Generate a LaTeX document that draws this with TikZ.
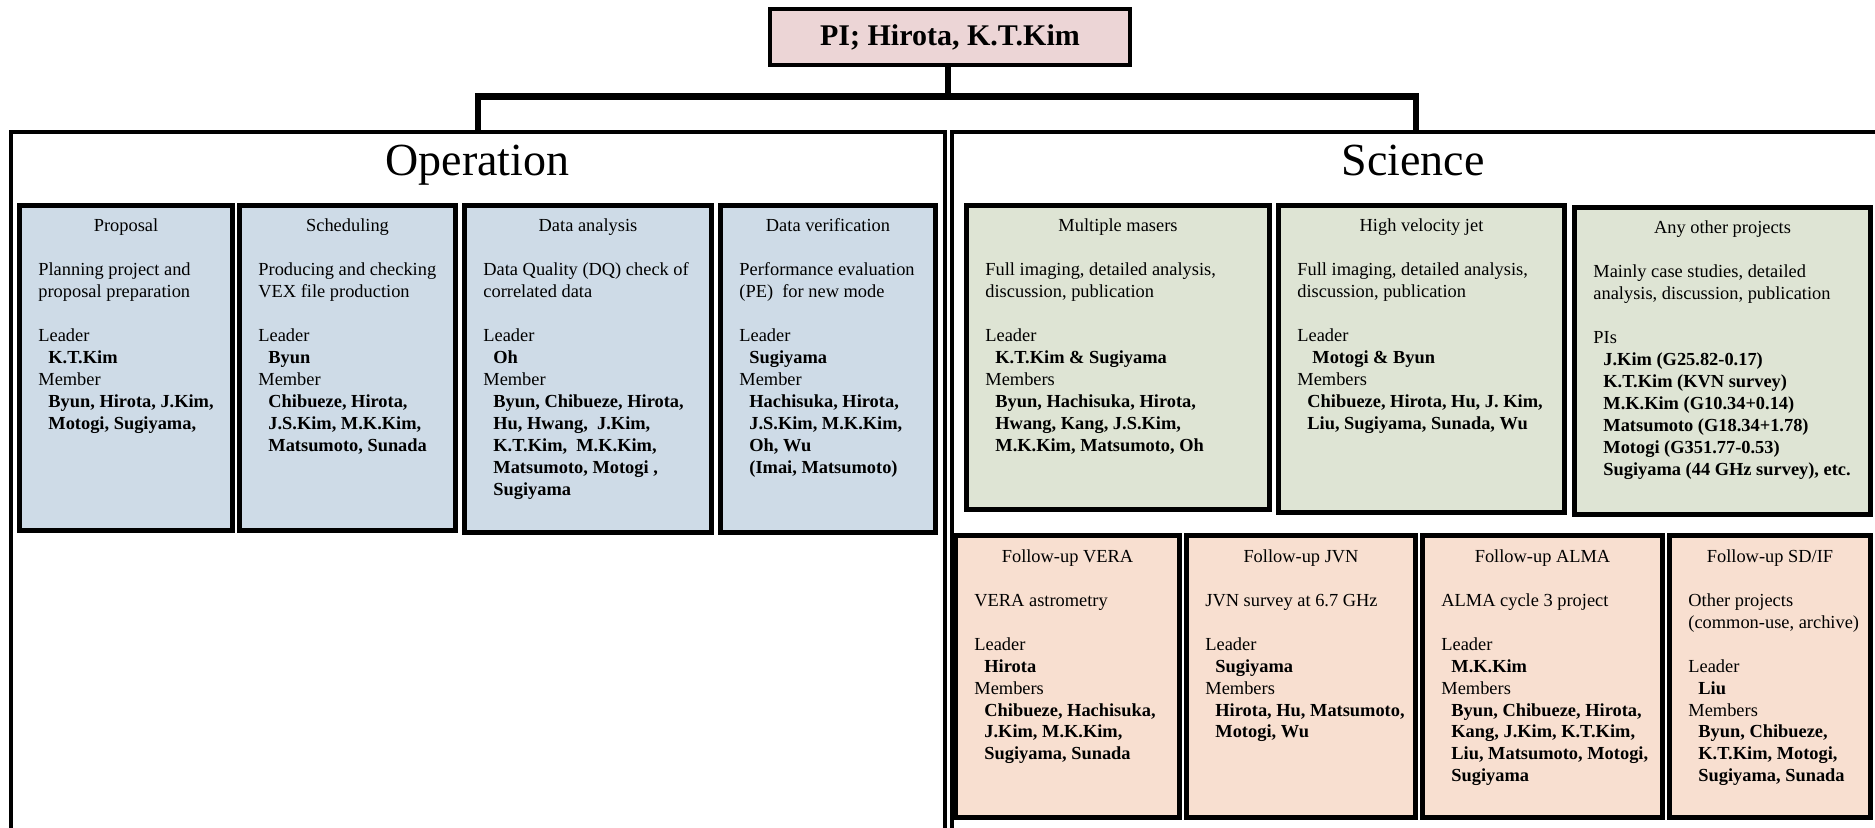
\documentclass[tikz,border=0pt]{standalone}
\usepackage{fontspec}
\setmainfont{Liberation Serif}
\definecolor{opblue}{RGB}{206,219,231}
\definecolor{scgreen}{RGB}{222,228,212}
\definecolor{fupeach}{RGB}{248,223,208}
\definecolor{pipink}{RGB}{236,213,214}
\newcommand\bodyf{\fontsize{9.2}{11}\selectfont}
\newcommand\pname[1]{\hspace*{5pt}\textbf{#1}}
\newcommand\cbox[8]{%
  \node[#6, anchor=north west, minimum width={(#4-#2)*0.5pt}, minimum height={(#5-#3)*0.5pt}] (#1) at (#2,#3) {};
  \node[txt, anchor=base] (#1-t) at ({(#2+#4)/2},{#3+26.5}) {#7};
  \node[txt, anchor=base west] (#1-b) at ({#2+18.5},{#3+70.5}) {\begin{tabular}[t]{@{}l@{}}#8\end{tabular}};
}
\tikzset{
  bx/.style={draw, line width=2.5pt, inner sep=0pt, outer sep=0pt},
  opb/.style={bx, fill=opblue},
  scg/.style={bx, fill=scgreen},
  fup/.style={bx, fill=fupeach},
  txt/.style={font=\bodyf, inner sep=0pt, text=black},
  big/.style={draw, line width=2pt, inner sep=0pt, outer sep=0pt},
  conn/.style={line width=3pt},
  bigtitle/.style={font=\fontsize{23}{27}\selectfont, inner sep=0pt},
}
\begin{document}
\begin{tikzpicture}[x=0.5pt, y=-0.5pt]
\useasboundingbox (0,0) rectangle (1875,828);
\clip (0,0) rectangle (1875,828);

% PI box
\node[draw, line width=2pt, fill=pipink, inner sep=0pt, outer sep=0pt,
      minimum width=180pt, minimum height=28pt,
      font=\fontsize{15}{18}\selectfont\bfseries] (pi) at (950,37) {PI; Hirota, K.T.Kim};

% big boxes
\node[big, anchor=north west, minimum width=467.25pt, minimum height=384pt] (op) at (10.5,132) {};
\node[big, anchor=north west, minimum width=464pt, minimum height=384pt] (sci) at (952,132) {};
\node[bigtitle, anchor=base] (op-t) at (477.5,176) {Operation};
\node[bigtitle, anchor=base] (sci-t) at (1413,176) {Science};

% connectors
\coordinate (bar) at (947.5,96.5);
\draw[conn] (pi.south -| bar) -- (bar);
\draw[conn] (op.north) -- (op.north |- bar);
\draw[conn] (sci.north) -- (sci.north |- bar);
\draw[line width=3.5pt] ([xshift=-1.5pt]op.north |- bar) -- ([xshift=1.5pt]sci.north |- bar);

% Operation boxes
\cbox{prop}{19.5}{205.5}{232.5}{530.5}{opb}{Proposal}{%
Planning project and\\ proposal preparation\\ ~\\ Leader\\ \pname{K.T.Kim}\\ Member\\ \pname{Byun, Hirota, J.Kim,}\\ \pname{Motogi, Sugiyama,}}
\cbox{sched}{239.5}{205.5}{455.5}{530.5}{opb}{Scheduling}{%
Producing and checking\\ VEX file production\\ ~\\ Leader\\ \pname{Byun}\\ Member\\ \pname{Chibueze, Hirota,}\\ \pname{J.S.Kim, M.K.Kim,}\\ \pname{Matsumoto, Sunada}}
\cbox{dana}{464.5}{205.5}{711.5}{532.5}{opb}{Data analysis}{%
Data Quality (DQ) check of\\ correlated data\\ ~\\ Leader\\ \pname{Oh}\\ Member\\ \pname{Byun, Chibueze, Hirota,}\\ \pname{Hu, Hwang,\ \ J.Kim,}\\ \pname{K.T.Kim,\ \ M.K.Kim,}\\ \pname{Matsumoto, Motogi ,}\\ \pname{Sugiyama}}
\cbox{dver}{720.5}{205.5}{935.5}{532.5}{opb}{Data verification}{%
Performance evaluation\\ (PE)\ \ for new mode\\ ~\\ Leader\\ \pname{Sugiyama}\\ Member\\ \pname{Hachisuka, Hirota,}\\ \pname{J.S.Kim, M.K.Kim,}\\ \pname{Oh, Wu}\\ \pname{(Imai, Matsumoto)}}

% Science upper boxes
\cbox{mm}{966.5}{205.5}{1269.5}{509.5}{scg}{Multiple masers}{%
Full imaging, detailed analysis,\\ discussion, publication\\ ~\\ Leader\\ \pname{K.T.Kim \& Sugiyama}\\ Members\\ \pname{Byun, Hachisuka, Hirota,}\\ \pname{Hwang, Kang, J.S.Kim,}\\ \pname{M.K.Kim, Matsumoto, Oh}}
\cbox{hvj}{1278.5}{205.5}{1564.5}{512.5}{scg}{High velocity jet}{%
Full imaging, detailed analysis,\\ discussion, publication\\ ~\\ Leader\\ \hspace*{2.5pt}\pname{Motogi \& Byun}\\ Members\\ \pname{Chibueze, Hirota, Hu, J. Kim,}\\ \pname{Liu, Sugiyama, Sunada, Wu}}
\cbox{aop}{1574.5}{207.5}{1870.5}{514.5}{scg}{Any other projects}{%
Mainly case studies, detailed\\ analysis, discussion, publication\\ ~\\ PIs\\ \pname{J.Kim (G25.82-0.17)}\\ \pname{K.T.Kim (KVN survey)}\\ \pname{M.K.Kim (G10.34+0.14)}\\ \pname{Matsumoto (G18.34+1.78)}\\ \pname{Motogi (G351.77-0.53)}\\ \pname{Sugiyama (44 GHz survey), etc.}}

% Science lower boxes
\cbox{vera}{955.5}{535.5}{1179.5}{817.5}{fup}{Follow-up VERA}{%
VERA astrometry\\ ~\\ Leader\\ \pname{Hirota}\\ Members\\ \pname{Chibueze, Hachisuka,}\\ \pname{J.Kim, M.K.Kim,}\\ \pname{Sugiyama, Sunada}}
\cbox{jvn}{1186.5}{535.5}{1415.5}{817.5}{fup}{Follow-up JVN}{%
JVN survey at 6.7 GHz\\ ~\\ Leader\\ \pname{Sugiyama}\\ Members\\ \pname{Hirota, Hu, Matsumoto,}\\ \pname{Motogi, Wu}}
\cbox{alma}{1422.5}{535.5}{1662.5}{817.5}{fup}{Follow-up ALMA}{%
ALMA cycle 3 project\\ ~\\ Leader\\ \pname{M.K.Kim}\\ Members\\ \pname{Byun, Chibueze, Hirota,}\\ \pname{Kang, J.Kim, K.T.Kim,}\\ \pname{Liu, Matsumoto, Motogi,}\\ \pname{Sugiyama}}
\cbox{sdif}{1669.5}{535.5}{1870.5}{817.5}{fup}{Follow-up SD/IF}{%
Other projects\\ (common-use, archive)\\ ~\\ Leader\\ \pname{Liu}\\ Members\\ \pname{Byun, Chibueze,}\\ \pname{K.T.Kim, Motogi,}\\ \pname{Sugiyama, Sunada}}
\end{tikzpicture}
\end{document}
